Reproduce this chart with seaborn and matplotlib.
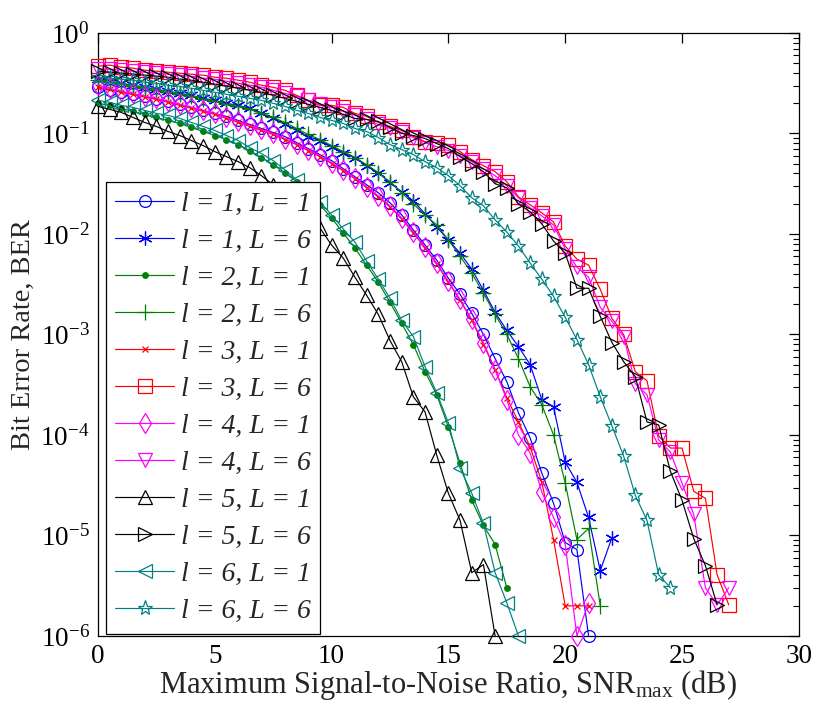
import numpy as np
import pandas as pd
import matplotlib
matplotlib.use("Agg")
import matplotlib.pyplot as plt
from matplotlib.ticker import FixedLocator, FuncFormatter, NullFormatter
import seaborn as sns

# SNR grid of the simulation (dB), 0.5 dB steps
snr_db = np.arange(0.0, 27.5, 0.5)

# log10(BER) per configuration (l = OAM mode index, L = number of paths)
log_ber_l1_L1 = [-0.54, -0.57, -0.59, -0.61, -0.63, -0.66, -0.68, -0.71, -0.74, -0.77,
                 -0.80, -0.83, -0.87, -0.91, -0.95, -0.99, -1.03, -1.09, -1.15, -1.21,
                 -1.27, -1.35, -1.43, -1.51, -1.59, -1.69, -1.81, -1.96, -2.11, -2.26,
                 -2.44, -2.60, -2.79, -3.00, -3.24, -3.47, -3.78, -4.03, -4.38, -4.68,
                 -5.07, -5.14, -6.00]
log_ber_l1_L6 = [-0.46, -0.48, -0.50, -0.52, -0.54, -0.56, -0.58, -0.60, -0.62, -0.65,
                 -0.67, -0.70, -0.72, -0.75, -0.80, -0.85, -0.91, -0.97, -1.03, -1.07,
                 -1.13, -1.19, -1.24, -1.32, -1.39, -1.49, -1.58, -1.67, -1.80, -1.93,
                 -2.06, -2.19, -2.35, -2.56, -2.78, -2.96, -3.12, -3.30, -3.65, -3.72,
                 -4.27, -4.47, -4.82, -5.35, -5.02]
log_ber_l2_L1 = [-0.70, -0.72, -0.75, -0.78, -0.81, -0.84, -0.87, -0.90, -0.94, -0.98,
                 -1.02, -1.06, -1.11, -1.17, -1.24, -1.31, -1.39, -1.48, -1.59, -1.71,
                 -1.84, -1.99, -2.14, -2.31, -2.48, -2.68, -2.89, -3.10, -3.37, -3.60,
                 -3.92, -4.28, -4.65, -4.90, -5.09, -5.52]
log_ber_l2_L6 = [-0.47, -0.49, -0.51, -0.53, -0.55, -0.57, -0.59, -0.61, -0.63, -0.66,
                 -0.68, -0.71, -0.73, -0.76, -0.80, -0.84, -0.89, -0.95, -1.01, -1.06,
                 -1.12, -1.18, -1.24, -1.31, -1.39, -1.48, -1.59, -1.70, -1.81, -1.91,
                 -2.06, -2.22, -2.39, -2.59, -2.80, -3.00, -3.24, -3.52, -3.70, -4.00,
                 -4.48, -5.04, -4.93, -5.70]
log_ber_l3_L1 = [-0.54, -0.56, -0.59, -0.61, -0.64, -0.66, -0.69, -0.72, -0.75, -0.78,
                 -0.81, -0.85, -0.89, -0.93, -0.97, -1.01, -1.06, -1.11, -1.17, -1.23,
                 -1.30, -1.37, -1.45, -1.54, -1.63, -1.73, -1.85, -1.99, -2.14, -2.30,
                 -2.48, -2.66, -2.86, -3.10, -3.35, -3.63, -3.87, -4.12, -4.47, -5.04,
                 -5.70, -5.70, -5.70]
log_ber_l3_L6 = [-0.33, -0.32, -0.34, -0.35, -0.37, -0.38, -0.39, -0.40, -0.41, -0.42,
                 -0.44, -0.45, -0.47, -0.49, -0.52, -0.54, -0.57, -0.62, -0.67, -0.72,
                 -0.72, -0.74, -0.80, -0.83, -0.89, -0.93, -0.97, -1.03, -1.08, -1.09,
                 -1.11, -1.18, -1.26, -1.32, -1.38, -1.48, -1.63, -1.71, -1.79, -1.88,
                 -2.12, -2.25, -2.31, -2.55, -2.84, -3.00, -3.37, -3.46, -4.01, -4.13,
                 -4.13, -4.56, -4.63, -5.39, -5.69]
log_ber_l4_L1 = [-0.52, -0.55, -0.58, -0.60, -0.63, -0.65, -0.68, -0.71, -0.74, -0.77,
                 -0.80, -0.84, -0.88, -0.92, -0.96, -1.00, -1.05, -1.10, -1.16, -1.22,
                 -1.29, -1.36, -1.44, -1.53, -1.62, -1.72, -1.84, -1.98, -2.13, -2.29,
                 -2.47, -2.65, -2.85, -3.08, -3.35, -3.65, -4.00, -4.18, -4.57, -4.82,
                 -5.09, -6.00, -5.67]
log_ber_l4_L6 = [-0.36, -0.36, -0.37, -0.38, -0.39, -0.40, -0.41, -0.42, -0.43, -0.45,
                 -0.46, -0.48, -0.50, -0.52, -0.54, -0.57, -0.60, -0.63, -0.67, -0.71,
                 -0.74, -0.78, -0.82, -0.86, -0.91, -0.95, -0.99, -1.04, -1.09, -1.13,
                 -1.17, -1.22, -1.28, -1.35, -1.42, -1.52, -1.64, -1.74, -1.82, -1.91,
                 -2.15, -2.33, -2.43, -2.73, -2.87, -3.02, -3.49, -3.60, -4.05, -4.17,
                 -4.48, -4.79, -5.52, -5.69, -5.52]
log_ber_l5_L1 = [-0.73, -0.76, -0.79, -0.84, -0.89, -0.93, -0.98, -1.02, -1.07, -1.12,
                 -1.18, -1.23, -1.28, -1.34, -1.42, -1.51, -1.61, -1.72, -1.83, -1.94,
                 -2.11, -2.24, -2.43, -2.61, -2.80, -3.06, -3.27, -3.62, -3.77, -4.20,
                 -4.58, -4.85, -5.37, -5.29, -6.00]
log_ber_l5_L6 = [-0.38, -0.39, -0.40, -0.41, -0.42, -0.43, -0.44, -0.46, -0.47, -0.49,
                 -0.51, -0.53, -0.55, -0.57, -0.59, -0.62, -0.65, -0.68, -0.71, -0.74,
                 -0.77, -0.81, -0.85, -0.86, -0.88, -0.94, -1.00, -1.02, -1.05, -1.10,
                 -1.15, -1.23, -1.30, -1.38, -1.50, -1.54, -1.70, -1.78, -1.90, -2.07,
                 -2.19, -2.54, -2.54, -2.82, -3.08, -3.27, -3.42, -3.87, -3.90, -4.36,
                 -4.65, -5.03, -5.30, -5.69]
log_ber_l6_L1 = [-0.67, -0.69, -0.72, -0.74, -0.77, -0.80, -0.82, -0.85, -0.89, -0.93,
                 -0.97, -1.02, -1.07, -1.14, -1.20, -1.27, -1.36, -1.46, -1.57, -1.68,
                 -1.81, -1.95, -2.08, -2.27, -2.45, -2.64, -2.86, -3.02, -3.32, -3.58,
                 -3.88, -4.33, -4.58, -4.88, -5.37, -5.67, -6.00]
log_ber_l6_L6 = [-0.44, -0.45, -0.46, -0.47, -0.49, -0.50, -0.52, -0.53, -0.55, -0.57,
                 -0.59, -0.61, -0.63, -0.65, -0.67, -0.70, -0.73, -0.77, -0.80, -0.84,
                 -0.87, -0.90, -0.95, -0.98, -1.04, -1.11, -1.16, -1.21, -1.28, -1.34,
                 -1.42, -1.52, -1.64, -1.72, -1.86, -1.98, -2.12, -2.29, -2.45, -2.62,
                 -2.83, -3.05, -3.30, -3.62, -3.91, -4.21, -4.60, -4.85, -5.39, -5.52]

labels = ["l = 1, L = 1", "l = 1, L = 6", "l = 2, L = 1", "l = 2, L = 6",
          "l = 3, L = 1", "l = 3, L = 6", "l = 4, L = 1", "l = 4, L = 6",
          "l = 5, L = 1", "l = 5, L = 6", "l = 6, L = 1", "l = 6, L = 6"]
series = [log_ber_l1_L1, log_ber_l1_L6, log_ber_l2_L1, log_ber_l2_L6,
          log_ber_l3_L1, log_ber_l3_L6, log_ber_l4_L1, log_ber_l4_L6,
          log_ber_l5_L1, log_ber_l5_L6, log_ber_l6_L1, log_ber_l6_L6]

x_ticks = [0, 5, 10, 15, 20, 25, 30]
y_decades = [-6, -5, -4, -3, -2, -1, 0]

BLUE, GREEN, RED, MAG, BLK, TEAL = "#0000ff", "#008000", "#ff0000", "#ff00ff", "#000000", "#008080"
asterisk = (6, 2, 0)
styles = [
    dict(color=BLUE, marker="o", ms=8.5, mfc="none"),
    dict(color=BLUE, marker=asterisk, ms=10, mfc=BLUE),
    dict(color=GREEN, marker=".", ms=8, mfc=GREEN),
    dict(color=GREEN, marker="+", ms=11, mfc=GREEN),
    dict(color=RED, marker="x", ms=5, mfc=RED),
    dict(color=RED, marker="s", ms=9.5, mfc="none"),
    dict(color=MAG, marker="d", ms=10, mfc="none"),
    dict(color=MAG, marker="v", ms=10, mfc="none"),
    dict(color=BLK, marker="^", ms=10, mfc="none"),
    dict(color=BLK, marker=">", ms=10, mfc="none"),
    dict(color=TEAL, marker="<", ms=10, mfc="none"),
    dict(color=TEAL, marker="*", ms=11, mfc="none"),
]

frames = []
for lab, vals in zip(labels, series):
    n = len(vals)
    frames.append(pd.DataFrame({"snr": snr_db[:n], "ber": 10.0 ** np.asarray(vals), "cfg": lab}))
data = pd.concat(frames, ignore_index=True)

sns.set_theme(style="white")
plt.rcParams["font.family"] = ["Liberation Serif", "DejaVu Serif"]
plt.rcParams["mathtext.fontset"] = "custom"
plt.rcParams["mathtext.rm"] = "Liberation Serif"
plt.rcParams["mathtext.it"] = "Liberation Serif:italic"

fig = plt.figure(figsize=(8.16, 7.08), dpi=100)
ax = fig.add_axes([0.120, 0.1017, 0.859, 0.8517])

for lab, st in zip(labels, styles):
    sub = data[data["cfg"] == lab]
    sns.lineplot(data=sub, x="snr", y="ber", ax=ax, color=st["color"], marker=st["marker"],
                 markersize=st["ms"], markerfacecolor=st["mfc"], markeredgecolor=st["color"],
                 markeredgewidth=0.9, linewidth=0.85, sort=False, estimator=None,
                 label=lab, clip_on=False, zorder=3)

ax.set_yscale("log")
ax.set_xlim(0, 30)
ax.set_ylim(1e-6, 1)
ax.xaxis.set_major_locator(FixedLocator(x_ticks))
major_y = [10.0 ** d for d in y_decades]
minor_y = [m * 10.0 ** d for d in y_decades[:-1] for m in range(2, 10)]
ax.yaxis.set_major_locator(FixedLocator(major_y))
ax.yaxis.set_minor_locator(FixedLocator(minor_y))
ax.yaxis.set_minor_formatter(NullFormatter())
ax.yaxis.set_major_formatter(FuncFormatter(lambda v, p: r"$\mathregular{10^{%d}}$" % int(round(np.log10(v)))))
ax.tick_params(which="both", direction="in", top=True, right=True, labelsize=19.5, colors="black")
ax.tick_params(which="major", length=7, width=0.9, pad=6)
ax.tick_params(which="minor", length=4, width=0.8)
for sp in ax.spines.values():
    sp.set_color("black")
    sp.set_linewidth(0.9)

ax.set_xlabel(r"Maximum Signal-to-Noise Ratio, SNR$_{\mathregular{max}}$ (dB)", fontsize=22, labelpad=-1)
ax.set_ylabel("Bit Error Rate, BER", fontsize=20.5, labelpad=3)

leg = ax.legend(loc="upper left", bbox_to_anchor=(0.011, 0.753),
                prop=dict(family="Liberation Serif", style="italic", size=20),
                frameon=True, fancybox=False, framealpha=1, edgecolor="black", handlelength=2.1,
                handletextpad=0.25, labelspacing=0.415, borderpad=0.35, borderaxespad=0)
leg.get_frame().set_linewidth(0.9)
leg.set_zorder(5)

fig.savefig("out.png", dpi=100)
